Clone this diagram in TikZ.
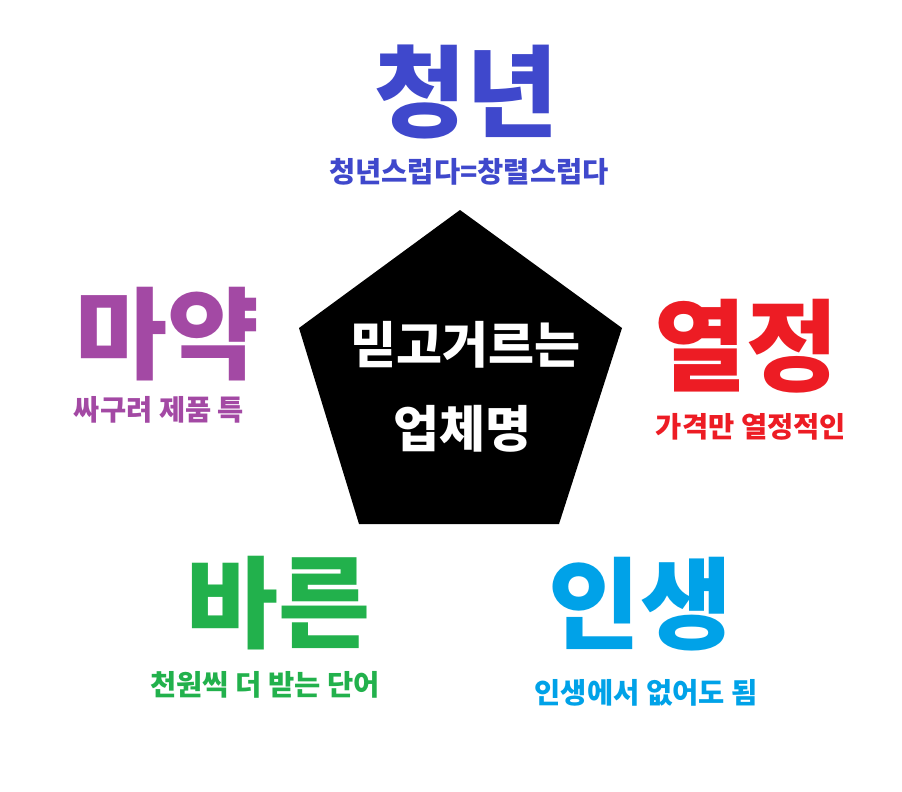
\documentclass[tikz,border=0pt]{standalone}
\usepackage{fontspec}
\newfontfamily\kr{Noto Sans CJK KR}
\definecolor{cblue}{HTML}{3F48CC}
\definecolor{cred}{HTML}{ED1C24}
\definecolor{cpurple}{HTML}{A349A4}
\definecolor{cgreen}{HTML}{22B14C}
\definecolor{ccyan}{HTML}{00A2E8}
\tikzset{
  big/.style={font=\kr\bfseries\fontsize{100}{100}\selectfont, inner sep=0pt, anchor=center},
  sub/.style={font=\kr\bfseries\fontsize{28.5}{28.5}\selectfont, inner sep=0pt, anchor=center},
  mid/.style={font=\kr\bfseries\fontsize{50}{50}\selectfont, inner sep=0pt, anchor=center, text=white}
}
\begin{document}
\begin{tikzpicture}[x=1pt,y=-1pt]
\useasboundingbox (0,0) rectangle (902,792);
\fill[white] (0,0) rectangle (902,792);
\coordinate (pT) at (460,210);
\coordinate (pR) at (622,328);
\coordinate (pBR) at (559,524);
\coordinate (pBL) at (359,524);
\coordinate (pL) at (299,328);
\fill[black] (pT) -- (pR) -- (pBR) -- (pBL) -- (pL) -- cycle;
\node[mid] (c1) at (465,345) {믿고거르는};
\node[mid] (c2) at (462,429) {업체명};
\node[big, text=cblue] (t1) at (466,92) {청년};
\node[sub, text=cblue] (s1) at (469,172) {청년스럽다=창렬스럽다};
\node[big, text=cpurple] (t2) at (167,334) {마약};
\node[sub, text=cpurple] (s2) at (159,410) {싸구려 제품 특};
\node[big, text=cred] (t3) at (746,346) {열정};
\node[sub, text=cred] (s3) at (751,427) {가격만 열정적인};
\node[big, text=cgreen] (t4) at (278,603) {바른};
\node[sub, text=cgreen] (s4) at (265,685) {천원씩 더 받는 단어};
\node[big, text=ccyan] (t5) at (640,604) {인생};
\node[sub, text=ccyan] (s5) at (646,693) {인생에서 없어도 됨};
\end{tikzpicture}
\end{document}
